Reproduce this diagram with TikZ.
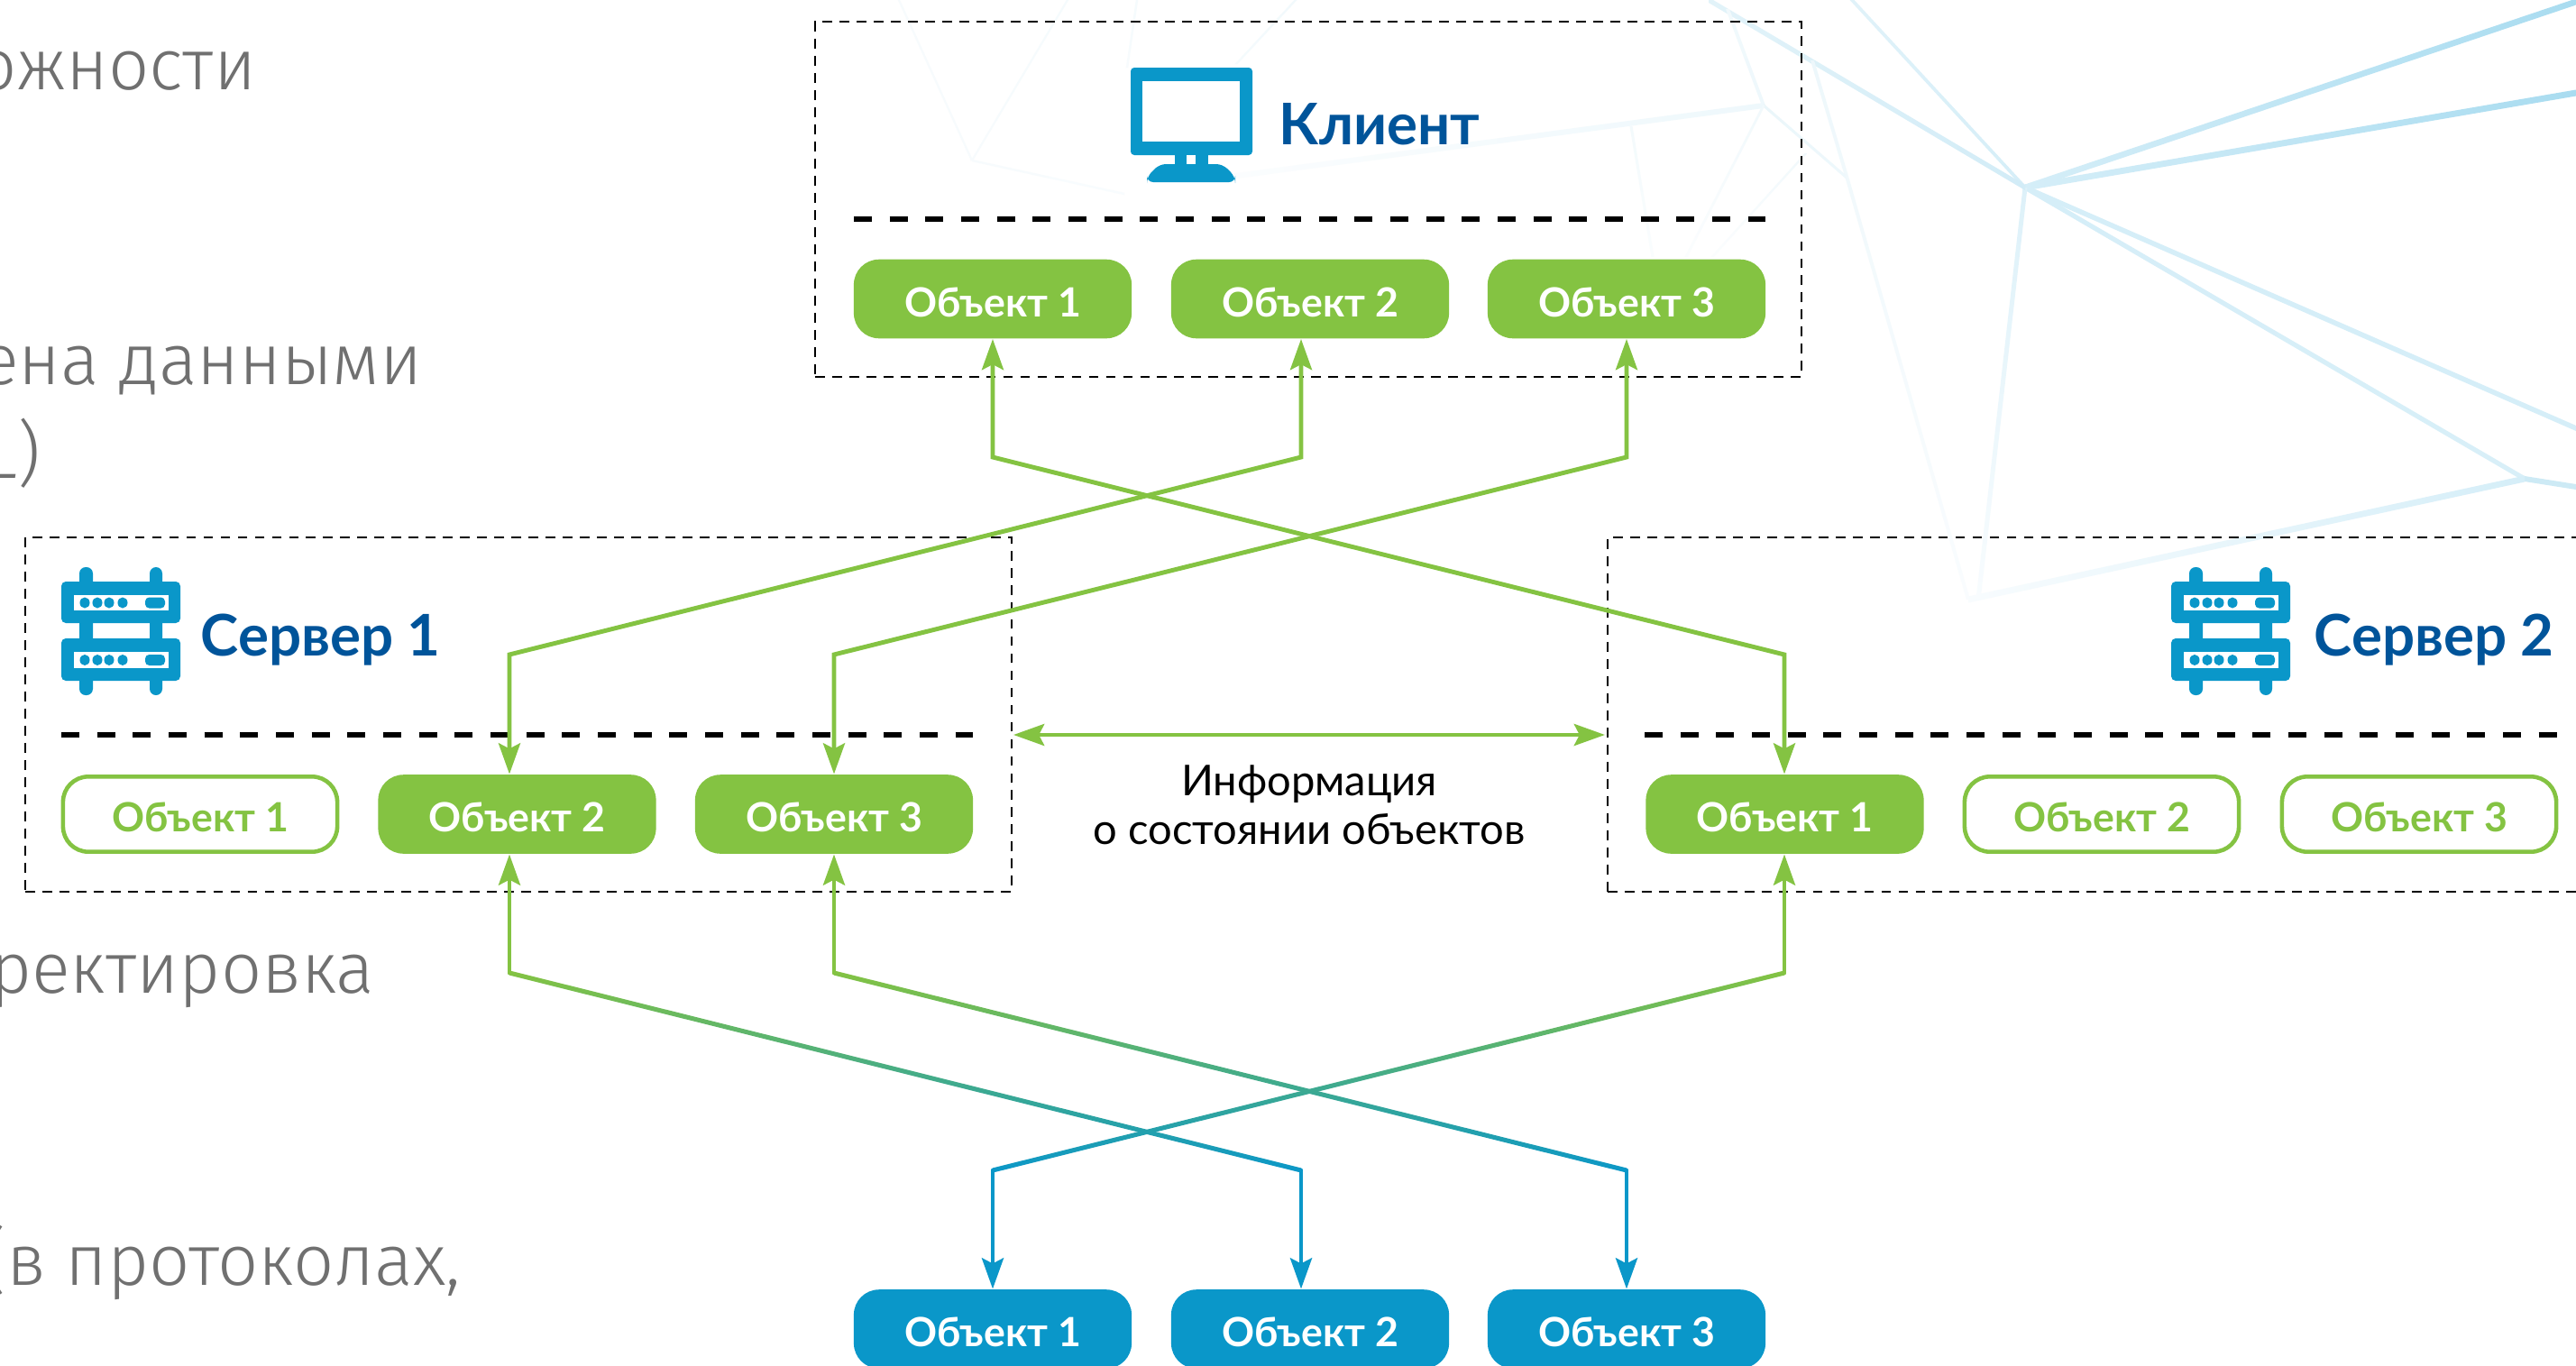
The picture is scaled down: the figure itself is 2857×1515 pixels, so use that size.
\documentclass[tikz,border=0pt]{standalone}
\usepackage{fontspec}
\setmainfont{Lato}
\newfontfamily\lightfont{Fira Sans Light}
\usetikzlibrary{arrows.meta}
\definecolor{grn}{HTML}{84C342}
\definecolor{cyn}{HTML}{0A97C9}
\definecolor{navy}{HTML}{00549A}
\definecolor{gry}{HTML}{707070}
\tikzset{
  panel/.style={draw=black,line width=0.6pt,dash pattern=on 3.1pt off 2.3pt,inner sep=0,fill=none},
  divider/.style={draw=black,line width=1.55pt,dash pattern=on 5.64pt off 5.64pt},
  objbase/.style={inner sep=0,rounded corners=0.28cm,font=\bfseries\fontsize{12.7}{15}\selectfont,text height=18.1pt,text depth=6.8pt,minimum width=3.08cm},
  objgreen/.style={objbase,fill=grn,text=white},
  objblue/.style={objbase,fill=cyn,text=white},
  objempty/.style={objbase,draw=grn,line width=1.3pt,text=grn,fill=white,text height=17.5pt,text depth=6.2pt,minimum width=3.04cm},
  tipstyle/.style={{Stealth[length=9.7pt,width=6.8pt,inset=1.7pt]}-{Stealth[length=9.7pt,width=6.8pt,inset=1.7pt]}},
  uptip/.style={-{Stealth[length=9.7pt,width=6.8pt,inset=1.7pt]}},
  conn/.style={line width=1.4pt,line join=miter},
  headtext/.style={text=navy,font=\bfseries\fontsize{18.1}{22}\selectfont,anchor=base west,inner sep=0},
  sidetext/.style={text=gry,font=\lightfont\fontsize{22.6}{28}\selectfont,anchor=base east,inner sep=0}
}
% pale background strokes, shaded along their length
\newcommand{\hglow}[7]{\definecolor{glowa}{HTML}{#5}\definecolor{glowb}{HTML}{#6}\shade[left color=glowa,right color=glowb] (#1,#2-#7) -- (#3,#4-#7) -- (#3,#4+#7) -- (#1,#2+#7) -- cycle;}
\newcommand{\vglow}[7]{\definecolor{glowa}{HTML}{#5}\definecolor{glowb}{HTML}{#6}\shade[top color=glowa,bottom color=glowb] (#1-#7,#2) -- (#3-#7,#4) -- (#3+#7,#4) -- (#1+#7,#2) -- cycle;}
\newcommand{\srvicon}[1]{%
  \begin{scope}[shift={(#1,0)}]
    \fill[cyn,rounded corners=0.07cm] (20,629) rectangle (35,771);
    \fill[cyn,rounded corners=0.07cm] (98,629) rectangle (112,771);
    \fill[cyn,rounded corners=0.05cm] (0,645) rectangle (132,691);
    \fill[cyn,rounded corners=0.05cm] (0,708) rectangle (132,755);
    \fill[white] (14,660) rectangle (119,677);
    \fill[white] (14,723) rectangle (119,741);
    \foreach \yy in {668.5,732}{
      \foreach \xx in {26,40,53,68}{\fill[cyn] (\xx,\yy) ellipse [x radius=0.055cm,y radius=0.06cm];}
      \fill[cyn,rounded corners=0.045cm] (93,\yy-6) rectangle (115,\yy+6);
    }
  \end{scope}}
\begin{document}
\begin{tikzpicture}[x=0.01cm,y=-0.01cm]
\useasboundingbox (0,0) rectangle (2857,1515);
\fill[white] (0,0) rectangle (2857,1515);
\clip (0,0) rectangle (2857,1515);
% background web
\coordinate (hub) at (2246,208);
\hglow{2246}{208}{2857}{2}{D5EEF8}{A9DCF0}{3.5}
\hglow{2246}{208}{2857}{103}{D5EEF8}{A9DCF0}{3.5}
\hglow{2246}{208}{2857}{475}{D5EEF8}{D5EEF8}{3}
\hglow{2246}{208}{2800}{531}{D5EEF8}{D8EFF8}{3}
\hglow{2800}{531}{2857}{540}{CDEAF5}{CDEAF5}{3}
\hglow{2183}{665}{2800}{531}{F8FCFE}{D5EEF8}{3.5}
\vglow{2246}{208}{2194}{665}{DDF1F9}{F8FCFE}{2.5}
\vglow{2054}{0}{2246}{208}{E0F2F9}{D5EEF8}{2.5}
\hglow{1895}{0}{2246}{208}{E2F3F9}{D2ECF7}{3}
\vglow{2010}{67}{2047}{192}{EDF7FB}{F1F9FC}{2}
\vglow{2047}{192}{2183}{665}{F1F9FC}{F9FCFE}{2}
\vglow{1916}{10}{1956}{117}{F1F9FC}{EEF8FC}{2}
\hglow{1956}{117}{2047}{196}{EAF6FA}{EEF8FC}{2}
\hglow{1364}{196}{1956}{117}{FBFDFE}{EEF8FC}{3}
\vglow{1956}{117}{1870}{285}{F1F9FC}{FBFDFE}{1.5}
\vglow{2003}{170}{1899}{285}{F1F9FC}{FBFDFE}{1.5}
\vglow{1809}{140}{1833}{285}{F3FAFC}{FAFDFE}{1.5}
\vglow{997}{0}{1078}{178}{F7FBFD}{F7FBFD}{1.2}
\vglow{1184}{0}{1078}{178}{F5FBFD}{F7FBFD}{1.2}
\hglow{1078}{178}{1247}{215}{F7FBFD}{F8FCFE}{1.2}
\vglow{1261}{0}{1250}{75}{F5FBFD}{F7FBFD}{1.2}
\vglow{1437}{0}{1371}{71}{F1F9FC}{F5FBFD}{1.5}
% clipped text on the left
\node[sidetext] (t1) at (285,100) {ожности};
\node[sidetext] (t2) at (469,426) {ена данными};
\node[sidetext] (t3) at (46,530) {L)};
\node[sidetext] (t4) at (416,1101) {ректировка};
\node[sidetext] (t5) at (512,1425) {(в протоколах,};
% panels
\node[panel,minimum width=10.94cm,minimum height=3.935cm] (client) at (1451,221.25) {};
\node[panel,minimum width=10.94cm,minimum height=3.93cm] (srva) at (575,792.5) {};
\node[panel,minimum width=11.5cm,minimum height=3.93cm] (srvb) at (2358,792.5) {};
% dividers
\coordinate (da1) at (947,243); \coordinate (da2) at (1958,243);
\coordinate (db1) at (68,815); \coordinate (db2) at (1079,815);
\coordinate (dc1) at (1824,815); \coordinate (dc2) at (2836,815);
\draw[divider] (da1) -- (da2);
\draw[divider] (db1) -- (db2);
\draw[divider] (dc1) -- (dc2);
% object boxes
\node[objgreen] (c1) at (1101,331.5) {Объект 1};
\node[objgreen] (c2) at (1453,331.5) {Объект 2};
\node[objgreen] (c3) at (1804,331.5) {Объект 3};
\node[objempty] (a1) at (222,903) {Объект 1};
\node[objgreen] (a2) at (573.5,903) {Объект 2};
\node[objgreen] (a3) at (925,903) {Объект 3};
\node[objgreen] (b1) at (1979.5,903) {Объект 1};
\node[objempty] (b2) at (2331,903) {Объект 2};
\node[objempty] (b3) at (2683,903) {Объект 3};
\node[objblue] (k1) at (1101,1474) {Объект 1};
\node[objblue] (k2) at (1453,1474) {Объект 2};
\node[objblue] (k3) at (1804,1474) {Объект 3};
% headers
\fill[cyn,rounded corners=0.04cm] (1254,75) rectangle (1389,172);
\fill[white] (1267,90) rectangle (1375,157);
\fill[cyn] (1303,170) rectangle (1340,184);
\fill[white] (1316,172) rectangle (1326,182);
\fill[cyn,rounded corners=0.07cm] (1286,182) -- (1356,182) -- (1370,196) -- (1370,202) -- (1272,202) -- (1272,196) -- cycle;
\node[headtext] (clientlabel) at (1418,160) {Клиент};
\srvicon{68}
\node[headtext] (srvalabel) at (222,727) {Сервер 1};
\srvicon{2408}
\node[headtext] (srvblabel) at (2566,727) {Сервер 2};
% top connectors
\coordinate (cb1) at (1101,507); \coordinate (cb2) at (1443,507); \coordinate (cb3) at (1804,507);
\coordinate (tb1) at (1979,726); \coordinate (tb2) at (565,726); \coordinate (tb3) at (925,726);
\draw[conn,grn,tipstyle] (c1.south) -- (cb1) -- (tb1) -- (tb1 |- b1.north);
\draw[conn,grn,tipstyle] (cb2 |- c2.south) -- (cb2) -- (tb2) -- (tb2 |- a2.north);
\draw[conn,grn,tipstyle] (c3.south) -- (cb3) -- (tb3) -- (tb3 |- a3.north);
% bottom connectors with a green to blue run
\coordinate (lb1) at (1101,1298); \coordinate (lb2) at (1443,1298); \coordinate (lb3) at (1804,1298);
\coordinate (ub1) at (1979,1079); \coordinate (ub2) at (565,1079); \coordinate (ub3) at (925,1079);
\shade[top color=grn,bottom color=cyn] (1979,1076.4) -- (1101,1295.4) -- (1101,1300.6) -- (1979,1081.6) -- cycle;
\shade[top color=grn,bottom color=cyn] (565,1076.4) -- (1443,1295.4) -- (1443,1300.6) -- (565,1081.6) -- cycle;
\shade[top color=grn,bottom color=cyn] (925,1076.4) -- (1804,1295.4) -- (1804,1300.6) -- (925,1081.6) -- cycle;
\draw[conn,grn,line cap=round,uptip] (ub1) -- (ub1 |- b1.south);
\draw[conn,grn,line cap=round,uptip] (ub2) -- (ub2 |- a2.south);
\draw[conn,grn,line cap=round,uptip] (ub3) -- (ub3 |- a3.south);
\draw[conn,cyn,line cap=round,uptip] (lb1) -- (k1.north);
\draw[conn,cyn,line cap=round,uptip] (lb2) -- (lb2 |- k2.north);
\draw[conn,cyn,line cap=round,uptip] (lb3) -- (k3.north);
% state exchange
\coordinate (ia) at (1124,815); \coordinate (ib) at (1780,815);
\draw[conn,grn,tipstyle] (ia) -- (ib);
\node[inner sep=0,anchor=base,font=\fontsize{13.4}{15}\selectfont] (i1) at (1452,882) {Информация};
\node[inner sep=0,anchor=base,font=\fontsize{13.4}{15}\selectfont] (i2) at (1452,936) {о состоянии объектов};
\end{tikzpicture}
\end{document}
